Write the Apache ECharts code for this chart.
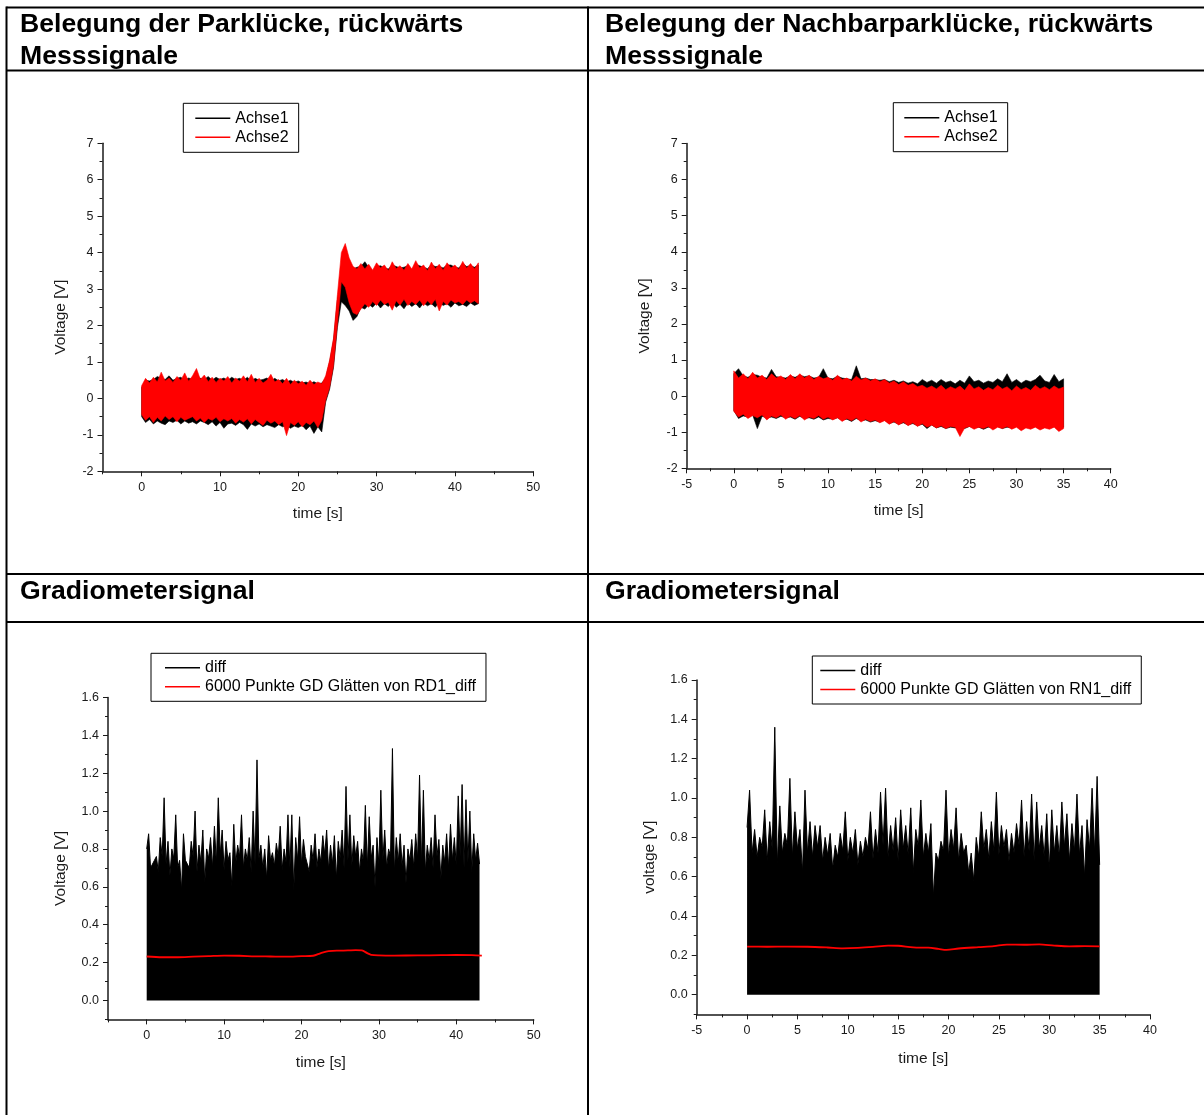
<!DOCTYPE html>
<html><head><meta charset="utf-8">
<script src="https://cdn.jsdelivr.net/npm/echarts@6/dist/echarts.min.js"></script>
<style>html,body{margin:0;padding:0;background:#fff}#c{width:1204px;height:1115px}</style>
</head><body><div id="c"></div><script>
const FONT = '"Liberation Sans", Arial, Helvetica, sans-serif';

// ---------- Chart 1: Belegung der Parklücke (t = 0 .. 43 s, step 0.5 s) ----------
const C1_T0 = 0, C1_STEP = 0.5;
const c1RedHi = [0.35,0.55,0.42,0.58,0.45,0.72,0.48,0.56,0.44,0.60, 0.50,0.70,0.47,0.62,0.82,0.52,0.64,0.46,0.58,0.44,
  0.55,0.48,0.60,0.42,0.56,0.47,0.62,0.45,0.66,0.44, 0.55,0.42,0.50,0.66,0.45,0.52,0.40,0.55,0.38,0.50,
  0.40,0.47,0.36,0.50,0.38,0.45,0.40, 0.62,1.05,1.65,2.85,4.00,4.25,3.85,3.62,3.55,3.70,3.55,3.68,
  3.52,3.72,3.58,3.66,3.50,3.75,3.56,3.64,3.52,3.70, 3.55,3.78,3.58,3.66,3.50,3.74,3.56,3.68,3.52,3.72,
  3.58,3.66,3.54,3.76,3.57,3.70,3.55,3.72];
const c1RedLo = [-0.45,-0.60,-0.50,-0.66,-0.52,-0.62,-0.48,-0.58,-0.50,-0.64, -0.52,-0.60,-0.55,-0.50,-0.62,-0.54,-0.66,-0.55,-0.60,-0.52,
  -0.64,-0.56,-0.62,-0.55,-0.68,-0.58,-0.65,-0.56,-0.70,-0.58, -0.66,-0.74,-0.60,-0.68,-0.62,-0.72,-0.64,-1.02,-0.66,-0.74,
  -0.64,-0.78,-0.66,-0.72,-0.62,-0.80,-0.60, -0.05,0.30,0.90,2.05,3.20,3.05,2.62,2.35,2.30,2.45,2.60,2.50,
  2.66,2.55,2.70,2.58,2.64,2.42,2.68,2.56,2.72,2.55, 2.66,2.58,2.70,2.54,2.68,2.57,2.72,2.40,2.66,2.56,
  2.70,2.62,2.66,2.58,2.70,2.62,2.68,2.60];
const c1BlackHi = [0.30,0.50,0.48,0.52,0.60,0.55,0.52,0.62,0.50,0.55, 0.58,0.50,0.56,0.52,0.60,0.55,0.52,0.60,0.50,0.58,
  0.52,0.56,0.50,0.58,0.52,0.55,0.50,0.58,0.48,0.55, 0.50,0.52,0.56,0.48,0.55,0.48,0.52,0.45,0.50,0.44,
  0.48,0.42,0.45,0.40,0.46,0.40,0.42, 0.55,1.00,1.60,2.70,3.40,3.45,3.40,3.55,3.60,3.62,3.75,3.60,
  3.48,3.62,3.64,3.58,3.55,3.66,3.62,3.58,3.60,3.64, 3.50,3.68,3.64,3.60,3.56,3.66,3.62,3.62,3.58,3.66,
  3.66,3.60,3.58,3.70,3.62,3.64,3.60,3.66];
const c1BlackLo = [-0.50,-0.66,-0.58,-0.70,-0.62,-0.68,-0.72,-0.62,-0.66,-0.60, -0.70,-0.62,-0.68,-0.64,-0.70,-0.62,-0.66,-0.72,-0.64,-0.76,
  -0.66,-0.82,-0.70,-0.68,-0.74,-0.66,-0.72,-0.85,-0.70,-0.76, -0.70,-0.78,-0.72,-0.76,-0.80,-0.72,-0.78,-0.74,-0.82,-0.76,
  -0.80,-0.74,-0.86,-0.76,-0.96,-0.78,-0.92, -0.10,0.25,0.85,1.95,2.65,2.55,2.40,2.14,2.25,2.50,2.45,2.58,
  2.50,2.62,2.48,2.60,2.52,2.66,2.50,2.58,2.46,2.62, 2.52,2.60,2.48,2.62,2.54,2.60,2.50,2.64,2.55,2.60,
  2.50,2.62,2.54,2.58,2.52,2.62,2.55,2.60];

// ---------- Chart 2: Belegung der Nachbarparklücke (t = 0 .. 35 s, step 0.5 s) ----------
const C2_T0 = 0, C2_STEP = 0.5;
const c2RedHi = [0.70,0.50,0.62,0.48,0.66,0.50,0.58,0.46,0.62,0.50, 0.56,0.46,0.60,0.48,0.62,0.50,0.58,0.46,0.55,0.48,
  0.52,0.44,0.58,0.46,0.50,0.42,0.55,0.45,0.50,0.42, 0.48,0.40,0.46,0.36,0.42,0.32,0.40,0.30,0.35,0.26,
  0.30,0.22,0.28,0.20,0.30,0.18,0.26,0.20,0.28,0.16, 0.34,0.20,0.26,0.16,0.24,0.18,0.30,0.20,0.26,0.15,
  0.28,0.18,0.24,0.16,0.30,0.20,0.26,0.18,0.28,0.20, 0.25];
const c2RedLo = [-0.42,-0.58,-0.50,-0.62,-0.54,-0.60,-0.52,-0.66,-0.55,-0.60, -0.52,-0.64,-0.56,-0.62,-0.54,-0.66,-0.58,-0.62,-0.54,-0.64,
  -0.58,-0.66,-0.60,-0.70,-0.62,-0.68,-0.60,-0.72,-0.64,-0.70, -0.66,-0.74,-0.68,-0.78,-0.70,-0.80,-0.72,-0.82,-0.74,-0.84,
  -0.76,-0.86,-0.80,-0.88,-0.82,-0.90,-0.84,-0.86,-1.12,-0.88, -0.84,-0.92,-0.86,-0.90,-0.84,-0.94,-0.86,-0.90,-0.84,-0.92,
  -0.86,-0.96,-0.88,-0.92,-0.86,-0.94,-0.88,-0.92,-0.86,-0.98, -0.90];
const c2BlackHi = [0.62,0.76,0.56,0.52,0.60,0.58,0.52,0.50,0.74,0.54, 0.52,0.50,0.56,0.52,0.58,0.54,0.56,0.50,0.52,0.76,
  0.50,0.48,0.55,0.50,0.48,0.46,0.84,0.48,0.50,0.46, 0.46,0.44,0.46,0.40,0.44,0.38,0.42,0.36,0.40,0.34,
  0.46,0.38,0.44,0.36,0.46,0.38,0.42,0.34,0.44,0.36, 0.56,0.40,0.44,0.36,0.42,0.38,0.48,0.40,0.62,0.38,
  0.46,0.36,0.44,0.40,0.46,0.58,0.42,0.38,0.60,0.40, 0.48];
const c2BlackLo = [-0.40,-0.62,-0.55,-0.58,-0.52,-0.90,-0.56,-0.60,-0.58,-0.62, -0.56,-0.60,-0.58,-0.64,-0.56,-0.62,-0.60,-0.64,-0.58,-0.66,
  -0.62,-0.64,-0.60,-0.66,-0.64,-0.70,-0.62,-0.68,-0.66,-0.72, -0.68,-0.72,-0.66,-0.76,-0.72,-0.78,-0.74,-0.80,-0.76,-0.82,
  -0.78,-0.90,-0.80,-0.88,-0.84,-0.90,-0.86,-0.88,-0.86,-0.90, -0.84,-0.88,-0.86,-0.92,-0.86,-0.88,-0.84,-0.90,-0.86,-0.88,
  -0.84,-0.90,-0.86,-0.88,-0.84,-0.90,-0.86,-0.88,-0.84,-0.90, -0.86];

// ---------- Chart 3: Gradiometersignal RD1 (troughs at 0.5k s, peaks at 0.25+0.5k s) ----------
const C3_STEP = 0.5;
const c3Troughs = [0.80,0.70,0.74,0.68,0.76,0.72,0.66,0.75,0.70,0.58, 0.74,0.70,0.76,0.68,0.73,0.62,0.75,0.70,0.72,0.77,
  0.69,0.74,0.60,0.72,0.76,0.70,0.74,0.68,0.72,0.75, 0.70,0.64,0.74,0.71,0.76,0.69,0.73,0.70,0.58,0.74,
  0.72,0.76,0.68,0.74,0.70,0.73,0.77,0.69,0.72,0.64, 0.75,0.70,0.74,0.71,0.76,0.68,0.73,0.70,0.75,0.60,
  0.72,0.74,0.70,0.76,0.68,0.73,0.71,0.62,0.74,0.70, 0.75,0.72,0.68,0.74,0.70,0.76,0.64,0.73,0.70,0.74,
  0.71,0.76,0.70,0.73,0.68,0.74,0.72];
const c3Peaks = [0.88,0.72,0.76,0.86,1.07,0.84,0.80,0.98,0.74,0.88, 0.72,0.84,1.00,0.82,0.90,0.80,0.86,0.92,1.07,0.90,
  0.84,0.78,0.93,0.82,0.98,0.80,0.86,1.00,1.27,0.82, 0.80,0.87,0.78,0.83,0.92,0.80,0.98,0.98,0.86,0.97,
  0.85,0.75,0.82,0.88,0.80,0.87,0.90,0.82,0.87,0.84, 0.90,1.13,0.98,0.87,0.84,0.80,1.03,0.97,0.82,0.86,
  1.11,0.90,0.80,1.33,0.86,0.88,0.82,0.80,0.85,0.88, 1.19,1.11,0.82,0.86,0.98,0.85,0.82,0.88,0.93,0.86,
  1.08,1.14,1.06,1.00,0.88,0.83];
const c3SmoothT = [0,2,4,6,8,10,12,14,16,18,20,21.5,22.5,23.5,25,26,27,27.8,28.5,29,30,32,35,38,40,42,43.3];
const c3SmoothV = [0.232,0.228,0.228,0.231,0.234,0.237,0.236,0.233,0.232,0.231,0.234,0.236,0.250,0.261,0.263,0.264,0.266,0.264,0.250,0.241,0.238,0.237,0.238,0.239,0.240,0.239,0.237];

// ---------- Chart 4: Gradiometersignal RN1 ----------
const C4_STEP = 0.5;
const c4Troughs = [0.85,0.72,0.70,0.75,0.68,0.74,0.66,0.72,0.76,0.70, 0.74,0.62,0.72,0.70,0.75,0.68,0.71,0.64,0.70,0.73,
  0.68,0.72,0.66,0.70,0.74,0.69,0.72,0.76,0.70,0.73, 0.68,0.74,0.71,0.62,0.75,0.70,0.72,0.50,0.68,0.73,
  0.70,0.74,0.68,0.72,0.62,0.58,0.70,0.74,0.69,0.73, 0.71,0.75,0.68,0.72,0.76,0.70,0.73,0.68,0.74,0.70,
  0.64,0.72,0.70,0.75,0.68,0.73,0.71,0.60,0.74,0.72, 0.66];
const c4Peaks = [1.04,0.84,0.80,0.94,0.88,1.36,0.96,0.82,1.10,0.93, 0.84,1.04,0.88,0.86,0.86,0.80,0.82,0.76,0.82,0.93,
  0.80,0.84,0.78,0.80,0.93,0.84,1.03,1.05,0.86,0.90, 0.94,0.86,0.95,0.84,0.99,0.82,0.87,0.72,0.78,1.04,
  0.84,0.95,0.82,0.76,0.72,0.80,0.93,0.84,0.88,1.03, 0.86,0.84,0.82,0.87,0.99,0.88,1.02,0.98,0.86,0.92,
  0.94,0.86,0.98,0.92,0.87,1.02,0.86,0.89,1.05,1.11];
const c4SmoothT = [0,2,4,6,8,9.5,11,12.5,14,15,16.5,18,19,19.8,21,23,24.5,25.8,27.5,29,30.5,32,33.5,35];
const c4SmoothV = [0.245,0.244,0.245,0.244,0.240,0.236,0.238,0.243,0.250,0.249,0.241,0.239,0.233,0.228,0.235,0.242,0.247,0.255,0.254,0.256,0.250,0.246,0.247,0.246];

// ---------- tick values ----------
const xLab50 = [0,10,20,30,40,50];
const xMinor50 = [-5,5,15,25,35,45];
const yLabGD = [0,0.2,0.4,0.6,0.8,1.0,1.2,1.4,1.6];
const yMinorGD = [-0.1,0.1,0.3,0.5,0.7,0.9,1.1,1.3,1.5];

// ---------- helpers ----------
const INK = '#1a1a1a';
function bandSeries(name, color, t0, step, hi, lo, xi, yi) {
  return {
    type: 'custom', name, xAxisIndex: xi, yAxisIndex: yi, silent: true,
    itemStyle: { color },
    data: [[t0, lo[0], hi[0]]],
    encode: { x: 0, y: [1, 2] },
    renderItem: function (params, api) {
      const pts = [];
      for (let i = 0; i < hi.length; i++) pts.push(api.coord([t0 + i * step, hi[i]]));
      for (let i = lo.length - 1; i >= 0; i--) pts.push(api.coord([t0 + i * step, lo[i]]));
      return { type: 'polygon', shape: { points: pts }, style: { fill: color, stroke: color, lineWidth: 0.6 } };
    }
  };
}
function spikeData(step, troughs, peaks) {
  const d = [];
  for (let i = 0; i < troughs.length; i++) {
    d.push([i * step, troughs[i]]);
    if (i < peaks.length) d.push([i * step + step / 2, peaks[i]]);
  }
  return d;
}
function pairs(t, v) { return t.map((x, i) => [x, v[i]]); }

function xMain(gi, min, max, extra, gap) {
  return Object.assign({
    type: 'value', gridIndex: gi, min, max, position: 'bottom',
    axisLine: { show: true, onZero: false, lineStyle: { color: INK, width: 1.5 } },
    axisTick: { show: true, length: 5, lineStyle: { color: INK, width: 1 } },
    axisLabel: { color: INK, fontSize: 12.5, fontFamily: FONT, margin: 10 },
    splitLine: { show: false },
    name: 'time [s]', nameLocation: 'middle', nameGap: gap,
    nameTextStyle: { color: INK, fontSize: 15.5, fontFamily: FONT }
  }, extra);
}
function yMain(gi, min, max, extra, name, gap) {
  return Object.assign({
    type: 'value', gridIndex: gi, min, max, position: 'left',
    axisLine: { show: true, onZero: false, lineStyle: { color: INK, width: 1.5 } },
    axisTick: { show: true, length: 5, lineStyle: { color: INK, width: 1 } },
    axisLabel: { color: INK, fontSize: 12.5, fontFamily: FONT, margin: 9 },
    splitLine: { show: false },
    name, nameLocation: 'middle', nameGap: gap,
    nameTextStyle: { color: INK, fontSize: 15.5, fontFamily: FONT, padding: [0, 20, 0, 0] }
  }, extra);
}
function minorAxis(kind, gi, min, max, vals) {
  return {
    type: 'value', gridIndex: gi, min, max, position: kind === 'x' ? 'bottom' : 'left',
    axisLine: { show: false, onZero: false },
    axisTick: { show: true, length: 3, customValues: vals, lineStyle: { color: INK, width: 1 } },
    axisLabel: { show: false }, splitLine: { show: false }
  };
}
const MINOR = { show: true, splitNumber: 2, length: 3, lineStyle: { color: INK, width: 1 } };

function legend(left, top, pad, names) {
  return {
    left, top, orient: 'vertical', padding: pad, itemGap: 0,
    itemWidth: 35, itemHeight: 1.5, icon: 'rect', selectedMode: false,
    borderColor: '#000', borderWidth: 1, backgroundColor: '#fff',
    textStyle: { color: '#000', fontSize: 16, fontFamily: FONT, lineHeight: 19 },
    data: names
  };
}
function title(x, y, text) {
  return { type: 'text', x, y, style: { text, font: 'bold 26.6px ' + FONT, fill: '#000', textVerticalAlign: 'middle', verticalAlign: 'middle' } };
}
function rule(x1, y1, x2, y2) {
  return { type: 'line', shape: { x1, y1, x2, y2 }, style: { stroke: '#000', lineWidth: 2 } };
}

const chart = echarts.init(document.getElementById('c'), null, { renderer: 'canvas' });
const option = {
  animation: false,
  backgroundColor: '#fff',
  grid: [
    { left: 102.5, top: 143.3, width: 430.7, height: 328 },
    { left: 686.7, top: 143.5, width: 424, height: 324.8 },
    { left: 108, top: 697.4, width: 425.7, height: 322 },
    { left: 696.7, top: 680, width: 453.3, height: 334.4 }
  ],
  xAxis: [
    xMain(0, -5, 50, { axisLabel: { color: INK, fontSize: 12.5, fontFamily: FONT, margin: 10, customValues: xLab50 },
      axisTick: { show: true, length: 5, customValues: xLab50, lineStyle: { color: INK, width: 1 } } }, 34),
    minorAxis('x', 0, -5, 50, xMinor50),
    xMain(1, -5, 40, { interval: 5, minorTick: MINOR }, 34),
    xMain(2, -5, 50, { axisLabel: { color: INK, fontSize: 12.5, fontFamily: FONT, margin: 10, customValues: xLab50 },
      axisTick: { show: true, length: 5, customValues: xLab50, lineStyle: { color: INK, width: 1 } } }, 35),
    minorAxis('x', 2, -5, 50, xMinor50),
    xMain(3, -5, 40, { interval: 5, minorTick: MINOR }, 36.5)
  ],
  yAxis: [
    yMain(0, -2, 7, { interval: 1, minorTick: MINOR }, 'Voltage [V]', 34),
    yMain(1, -2, 7, { interval: 1, minorTick: MINOR }, 'Voltage [V]', 34),
    yMain(2, -0.1, 1.6, { axisLabel: { color: INK, fontSize: 12.5, fontFamily: FONT, margin: 9, customValues: yLabGD, formatter: v => v.toFixed(1) },
      axisTick: { show: true, length: 5, customValues: yLabGD, lineStyle: { color: INK, width: 1 } } }, 'Voltage [V]', 39.5),
    minorAxis('y', 2, -0.1, 1.6, yMinorGD),
    yMain(3, -0.1, 1.6, { axisLabel: { color: INK, fontSize: 12.5, fontFamily: FONT, margin: 9, customValues: yLabGD, formatter: v => v.toFixed(1) },
      axisTick: { show: true, length: 5, customValues: yLabGD, lineStyle: { color: INK, width: 1 } } }, 'voltage [V]', 39),
    minorAxis('y', 3, -0.1, 1.6, yMinorGD)
  ],
  legend: [
    legend(183.3, 103.3, [5.5, 10, 5.5, 12], ['Achse1', 'Achse2']),
    legend(893.3, 102.7, [5.5, 10, 5.5, 11], ['Achse1', 'Achse2']),
    legend(151, 653.3, [5, 10, 5, 14], ['diff', '6000 Punkte GD Glätten von RD1_diff']),
    legend(812.3, 656, [5, 10, 5, 8], ['diff', '6000 Punkte GD Glätten von RN1_diff'])
  ],
  series: [
    bandSeries('Achse1', '#000000', C1_T0, C1_STEP, c1BlackHi, c1BlackLo, 0, 0),
    bandSeries('Achse2', '#ff0000', C1_T0, C1_STEP, c1RedHi, c1RedLo, 0, 0),
    bandSeries('Achse1', '#000000', C2_T0, C2_STEP, c2BlackHi, c2BlackLo, 2, 1),
    bandSeries('Achse2', '#ff0000', C2_T0, C2_STEP, c2RedHi, c2RedLo, 2, 1),
    { type: 'line', name: 'diff', xAxisIndex: 3, yAxisIndex: 2, data: spikeData(C3_STEP, c3Troughs, c3Peaks),
      showSymbol: false, symbol: 'none', silent: true, itemStyle: { color: '#000' },
      lineStyle: { color: '#000', width: 1 }, areaStyle: { color: '#000', opacity: 1 } },
    { type: 'line', name: '6000 Punkte GD Glätten von RD1_diff', xAxisIndex: 3, yAxisIndex: 2,
      data: pairs(c3SmoothT, c3SmoothV), showSymbol: false, symbol: 'none', silent: true, smooth: 0.3,
      itemStyle: { color: '#ff0000' }, lineStyle: { color: '#ff0000', width: 1.8 } },
    { type: 'line', name: 'diff', xAxisIndex: 5, yAxisIndex: 4, data: spikeData(C4_STEP, c4Troughs, c4Peaks),
      showSymbol: false, symbol: 'none', silent: true, itemStyle: { color: '#000' },
      lineStyle: { color: '#000', width: 1 }, areaStyle: { color: '#000', opacity: 1 } },
    { type: 'line', name: '6000 Punkte GD Glätten von RN1_diff', xAxisIndex: 5, yAxisIndex: 4,
      data: pairs(c4SmoothT, c4SmoothV), showSymbol: false, symbol: 'none', silent: true, smooth: 0.3,
      itemStyle: { color: '#ff0000' }, lineStyle: { color: '#ff0000', width: 1.8 } }
  ],
  graphic: [
    rule(6.5, 7.5, 1204, 7.5),
    rule(6.5, 70.5, 1204, 70.5),
    rule(6.5, 574, 1204, 574),
    rule(6.5, 622, 1204, 622),
    rule(6.5, 6.5, 6.5, 1115),
    rule(588, 6.5, 588, 1115),
    title(20, 25, 'Belegung der Parklücke, rückwärts'),
    title(20, 56.5, 'Messsignale'),
    title(605, 25, 'Belegung der Nachbarparklücke, rückwärts'),
    title(605, 56.5, 'Messsignale'),
    title(20, 592, 'Gradiometersignal'),
    title(605, 592, 'Gradiometersignal')
  ]
};
chart.setOption(option);
</script></body></html>
